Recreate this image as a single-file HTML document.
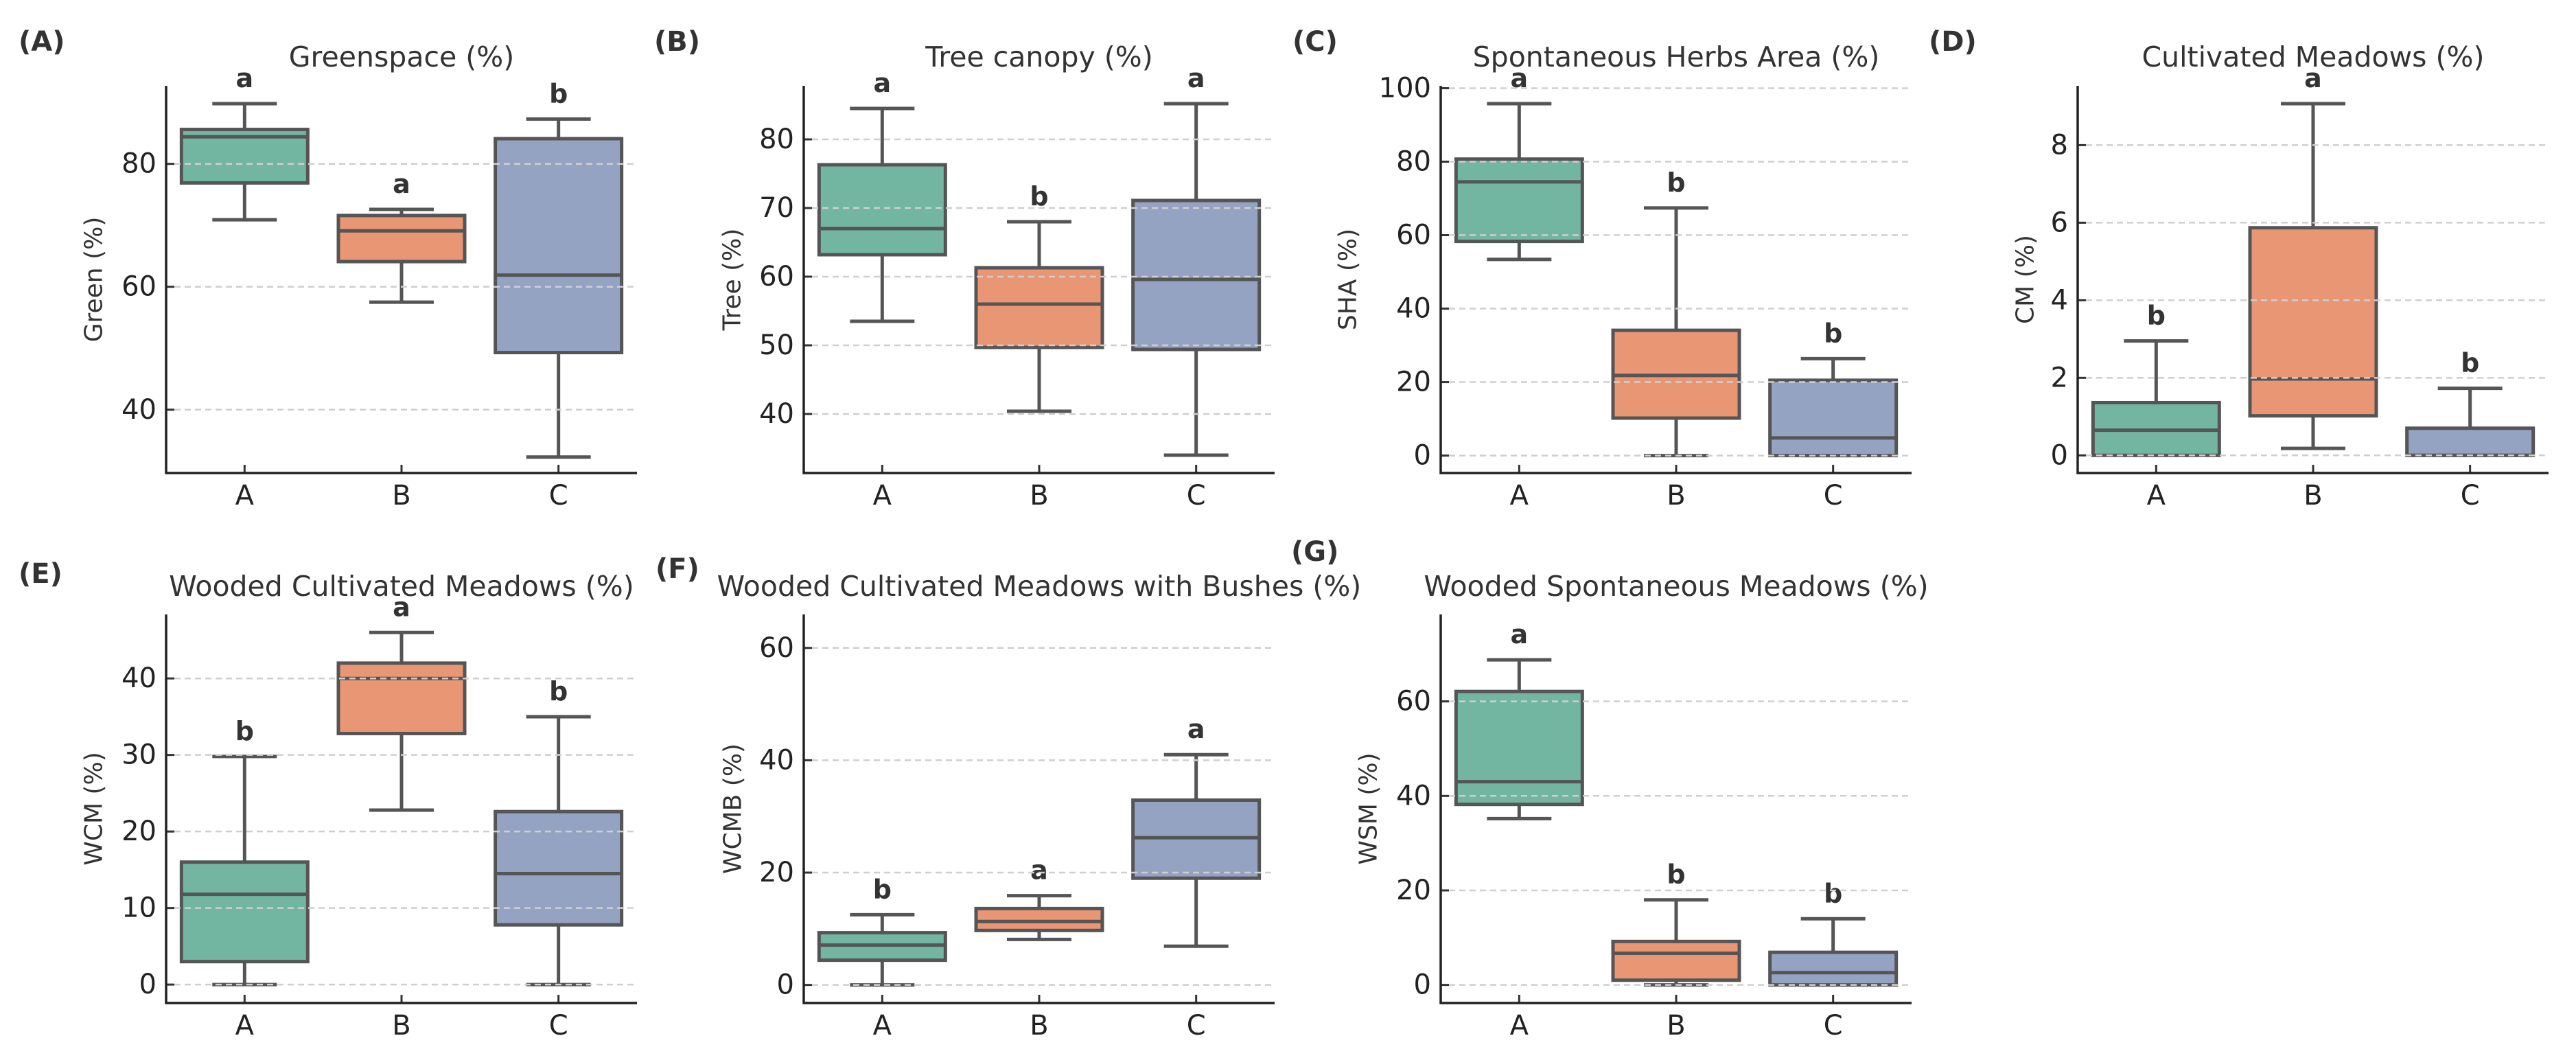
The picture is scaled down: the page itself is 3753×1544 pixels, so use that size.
<!DOCTYPE html>
<html><head><meta charset="utf-8"><style>
html,body{margin:0;padding:0;background:#fff;}
svg{display:block;font-family:"DejaVu Sans","Liberation Sans",sans-serif;}
</style></head><body>
<svg id="fig" width="3753" height="1544" viewBox="0 0 3753 1544" xmlns="http://www.w3.org/2000/svg"></svg>
<script>
// ---- data ----
const categories = ["A","B","C"];
const panelLetters = ["(A)","(B)","(C)","(D)","(E)","(F)","(G)"];
const panelTitles = ["Greenspace (%)","Tree canopy (%)","Spontaneous Herbs Area (%)","Cultivated Meadows (%)","Wooded Cultivated Meadows (%)","Wooded Cultivated Meadows with Bushes (%)","Wooded Spontaneous Meadows (%)"];
const yLabels = ["Green (%)","Tree (%)","SHA (%)","CM (%)","WCM (%)","WCMB (%)","WSM (%)"];
// [low whisker, Q1, median, Q3, high whisker] per category
const greenStats = [[70.9,76.9,84.4,85.6,89.8],[57.5,64.1,69.1,71.6,72.6],[32.3,49.3,61.9,84.1,87.3]];
const treeStats = [[53.5,63.2,67,76.3,84.5],[40.4,49.7,56,61.3,68],[34,49.4,59.6,71.1,85.2]];
const shaStats = [[53.4,58.3,74.5,80.7,95.8],[0,10.2,21.8,34.1,67.4],[0,0,4.8,20.5,26.4]];
const cmStats = [[0,0,0.65,1.36,2.95],[0.18,1.02,1.97,5.87,9.07],[0,0,0,0.7,1.73]];
const wcmStats = [[0,3,11.8,16,29.8],[22.8,32.8,40,42,46],[0,7.8,14.5,22.6,35]];
const wcmbStats = [[0,4.4,7.1,9.3,12.5],[8.1,9.7,11.3,13.6,15.9],[6.9,19,26.2,32.9,41]];
const wsmStats = [[35.2,38.2,43,62.1,68.8],[0,1,6.7,9.2,18],[0,0,2.6,6.9,14]];
const allStats = [greenStats,treeStats,shaStats,cmStats,wcmStats,wcmbStats,wsmStats];
const sigLetters = [["a","a","b"],["a","b","a"],["a","b","b"],["b","a","b"],["b","a","b"],["b","a","a"],["a","b","b"]];
const yTicks = [[40,60,80],[40,50,60,70,80],[0,20,40,60,80,100],[0,2,4,6,8],[0,10,20,30,40],[0,20,40,60],[0,20,40,60]];
const yMin = [29.7,31.4,-4.75,-0.455,-2.41,-3.22,-3.83];
const yMax = [92.7,87.8,100.65,9.53,48.36,65.96,78.4];

// ---- layout ----
const NS="http://www.w3.org/2000/svg";
const svg=document.getElementById('fig');
const fills=["#72b6a1","#e99675","#95a3c3"];
const lefts=[242,1171,2099,3027,242,1171,2099];
const tops=[125,125,125,125,895,895,895];
const bottoms=[689,689,689,689,1461,1461,1461];
const W=686;
const ylabX=[137,1067,1964,2951,137,1068,1994];
const letterPos=[[27,74],[953,74],[1883,74],[2810,74],[27,849],[955,842],[1881,817]];
const titleY=[97,97,97,97,868,868,868];
function mk(tag,attrs,parent){const e=document.createElementNS(NS,tag);for(const k in attrs)e.setAttribute(k,attrs[k]);(parent||svg).appendChild(e);return e;}

for(let p=0;p<7;p++){
  const g=mk('g',{});
  
  
  const L=lefts[p],T=tops[p],B=bottoms[p];
  const y=v=>B-(v-yMin[p])/(yMax[p]-yMin[p])*(B-T);
  const x=i=>L+(i+0.5)*W/3;
  // panel letter
  const pl=mk('text',{x:letterPos[p][0],y:letterPos[p][1],'font-size':40,'font-weight':'bold',fill:'#333'},g);
  pl.textContent=panelLetters[p];
  
  
  // title
  const t=mk('text',{x:L+W/2,y:titleY[p],'font-size':41,fill:'#333','text-anchor':'middle'},g);
  t.textContent=panelTitles[p];
  
  
  // y label
  const yl=mk('text',{x:ylabX[p],y:(T+B)/2,'font-size':36,fill:'#333','text-anchor':'middle','dominant-baseline':'central',transform:`rotate(-90 ${ylabX[p]} ${(T+B)/2})`},g);
  yl.textContent=yLabels[p];
  
  
  // boxes
  allStats[p].forEach((s,i)=>{
    const cx=x(i),bw=184,cw=94;
    const bg=mk('g',{stroke:'#555','stroke-width':5,fill:'none'},g);
    
    
    mk('line',{x1:cx,x2:cx,y1:y(s[4]),y2:y(s[3])},bg);
    mk('line',{x1:cx,x2:cx,y1:y(s[1]),y2:y(s[0])},bg);
    mk('line',{x1:cx-cw/2,x2:cx+cw/2,y1:y(s[4]),y2:y(s[4])},bg);
    mk('line',{x1:cx-cw/2,x2:cx+cw/2,y1:y(s[0]),y2:y(s[0])},bg);
    mk('rect',{x:cx-bw/2,y:y(s[3]),width:bw,height:Math.max(0,y(s[1])-y(s[3])),fill:fills[i]},bg);
    mk('line',{x1:cx-bw/2,x2:cx+bw/2,y1:y(s[2]),y2:y(s[2])},bg);
    const sl=mk('text',{x:cx,y:y(s[4])-24,'font-size':38,'font-weight':'bold',fill:'#333','text-anchor':'middle'},g);
    sl.textContent=sigLetters[p][i];
    
    
  });
  // grid + y ticks (grid drawn over boxes)
  yTicks[p].forEach(v=>{
    const yy=y(v);
    const gl=mk('line',{x1:L+12,x2:L+W,y1:yy,y2:yy,stroke:'#cfcfcf','stroke-width':2.5,'stroke-dasharray':'9,6'},g);
    
    
    mk('line',{x1:L,x2:L+12,y1:yy,y2:yy,stroke:'#333','stroke-width':3},g);
    const tl=mk('text',{x:L-14,y:yy,'font-size':40,fill:'#222','text-anchor':'end','dominant-baseline':'central'},g);
    tl.textContent=String(v);
    
    
  });
  // x ticks
  categories.forEach((c,i)=>{
    mk('line',{x1:x(i),x2:x(i),y1:B,y2:B-12,stroke:'#333','stroke-width':3},g);
    const xl=mk('text',{x:x(i),y:B+46,'font-size':40,fill:'#222','text-anchor':'middle'},g);
    xl.textContent=c;
    
    
  });
  // spines
  const sp=mk('path',{d:`M${L} ${T} V${B} H${L+W}`,stroke:'#222','stroke-width':3.5,fill:'none'},g);
  
  
}
</script>
</body></html>
